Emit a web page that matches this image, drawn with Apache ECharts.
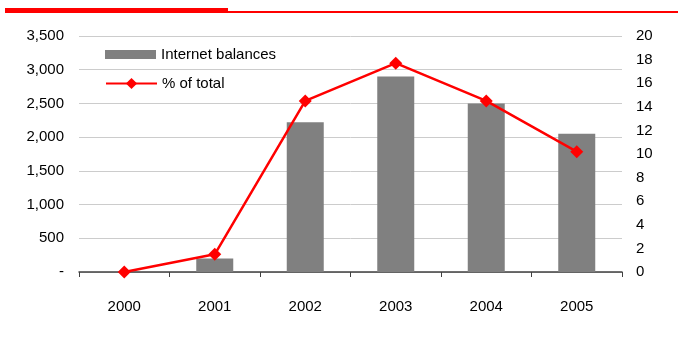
<!DOCTYPE html>
<html>
<head>
<meta charset="utf-8">
<script src="https://cdn.jsdelivr.net/npm/echarts@6/dist/echarts.min.js"></script>
<style>
  html, body { margin: 0; padding: 0; background: #fff; }
  #chart { width: 678px; height: 349px; }
</style>
</head>
<body>
<div id="chart"></div>
<script>
// Internet balances (left axis) and share of total (right axis), 2000-2005
const years = ['2000', '2001', '2002', '2003', '2004', '2005'];
const internetBalances = [0, 200, 2220, 2900, 2500, 2050];
const pctOfTotal = [0, 1.5, 14.5, 17.7, 14.5, 10.2];
const leftTicks = { min: 0, max: 3500, interval: 500 };
const rightTicks = { min: 0, max: 20, interval: 2 };

const font = 'Liberation Sans, Arial, sans-serif';
const fs = 15;
const chart = echarts.init(document.getElementById('chart'), null, { renderer: 'canvas' });

chart.setOption({
  animation: false,
  backgroundColor: '#ffffff',
  textStyle: { fontFamily: font },
  graphic: [
    { type: 'rect', shape: { x: 5, y: 8, width: 223, height: 5 }, style: { fill: '#ff0000' } },
    { type: 'rect', shape: { x: 228, y: 11, width: 450, height: 2 }, style: { fill: '#ff0000' } }
  ],
  grid: { left: 79, right: 56, top: 36, bottom: 77, containLabel: false },
  legend: [
    {
      left: 100,
      top: 42,
      itemWidth: 51,
      itemHeight: 9,
      itemGap: 7,
      textStyle: { fontFamily: font, fontSize: fs, color: '#000' },
      data: [{ name: 'Internet balances', icon: 'rect' }]
    },
    {
      left: 100,
      top: 71,
      itemWidth: 51,
      itemHeight: 14,
      textStyle: { fontFamily: font, fontSize: fs, color: '#000' },
      data: [{ name: '% of total' }]
    }
  ],
  xAxis: {
    type: 'category',
    data: years,
    axisLine: { lineStyle: { color: '#404040', width: 1.5 } },
    axisTick: { show: true, length: 5, lineStyle: { color: '#404040' } },
    axisLabel: { fontFamily: font, fontSize: fs, color: '#000', margin: 27 }
  },
  yAxis: [
    {
      type: 'value',
      min: leftTicks.min, max: leftTicks.max, interval: leftTicks.interval,
      axisLine: { show: false },
      axisTick: { show: false },
      splitLine: { lineStyle: { color: '#cccccc', width: 1 } },
      axisLabel: {
        fontFamily: font, fontSize: fs, color: '#000', margin: 15,
        formatter: v => v === 0 ? '-' : v.toLocaleString('en-US')
      }
    },
    {
      type: 'value',
      min: rightTicks.min, max: rightTicks.max, interval: rightTicks.interval,
      axisLine: { show: false },
      axisTick: { show: false },
      splitLine: { show: false },
      axisLabel: { fontFamily: font, fontSize: fs, color: '#000', margin: 14 }
    }
  ],
  series: [
    {
      name: 'Internet balances',
      type: 'bar',
      data: internetBalances,
      barWidth: 37,
      itemStyle: { color: '#808080' }
    },
    {
      name: '% of total',
      type: 'line',
      yAxisIndex: 1,
      data: pctOfTotal,
      symbol: 'diamond',
      symbolSize: 13,
      lineStyle: { color: '#ff0000', width: 2.5 },
      itemStyle: { color: '#ff0000' }
    }
  ]
});
</script>
</body>
</html>
